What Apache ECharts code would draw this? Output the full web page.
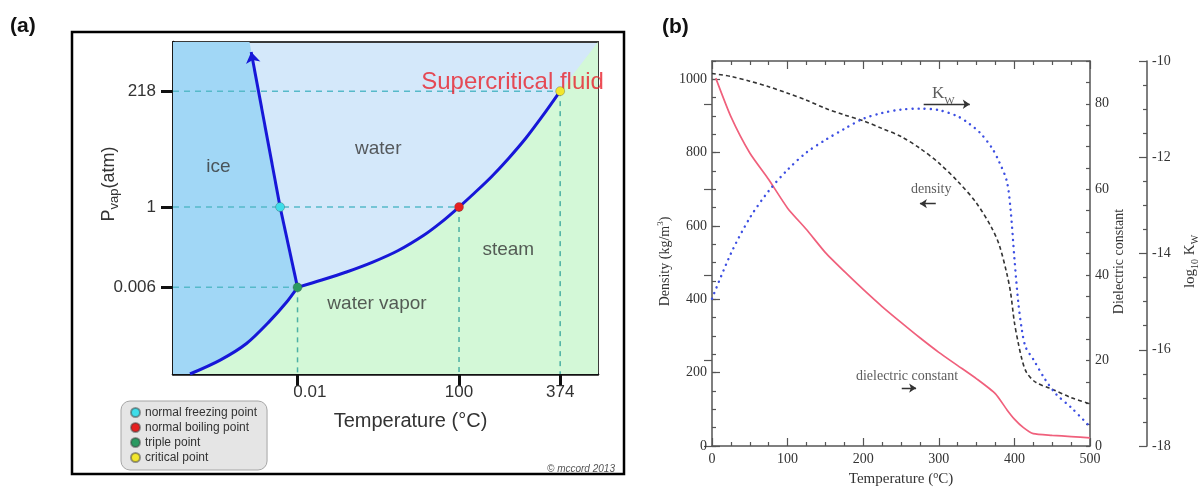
<!DOCTYPE html>
<html>
<head>
<meta charset="utf-8">
<script src="https://cdn.jsdelivr.net/npm/echarts@6/dist/echarts.min.js"></script>
<style>
  html, body { margin: 0; padding: 0; background: #fff; }
  #main { width: 1203px; height: 488px; }
</style>
</head>
<body>
<div id="main"></div>
<script>
// (a) phase diagram, schematic: both axes run 0..100 across the plot box
const phaseTickX = [29.3, 67.3, 91.1];
const phaseLabelX = [32.2, 67.3, 91.1]; // "0.01" sits a bit right of its tick
const phaseLabelXText = ["0.01", "100", "374"];
const phaseTickY = [26.1, 50.3, 85.2];
const phaseLabelYText = ["0.006", "1", "218"];

const sublimation = [[4.0, 0], [11.1, 4.2], [17.3, 9.2], [22.8, 16.0], [26.7, 21.6], [29.3, 26.1]];
const vaporization = [[29.3, 26.1], [35, 28.3], [41, 30.8], [47, 33.7], [53, 37.2], [59, 41.8], [63, 45.6],
  [67.3, 50.3], [71, 54.6], [75, 59.5], [79, 65.0], [83, 71.0], [87, 77.8], [91.1, 85.2]];
const melting = [[29.3, 26.1], [25.2, 50.3], [18.0, 100]];
const meltArrowTip = [18.4, 97];

const pointNames = ["normal freezing point", "normal boiling point", "triple point", "critical point"];
const pointCoords = [[25.2, 50.3], [67.3, 50.3], [29.3, 26.1], [91.1, 85.2]];
const guidePoints = [2, 1, 3]; // dashed guides to the axes

const phaseNames = ["ice", "water", "steam", "water vapor"];
const phaseNameAt = [[10.7, 62.4], [48.3, 67.8], [78.9, 37.3], [48.0, 21.1]];
const scfName = "Supercritical fluid";
const scfAt = [79.9, 87.7];

// (b) water properties vs temperature
const tempTicks = [0, 100, 200, 300, 400, 500];
const densityTicks = [0, 200, 400, 600, 800, 1000];
const dielectricTicks = [0, 20, 40, 60, 80];
const density = [[0, 1016], [25, 1008], [50, 995], [75, 980], [100, 962], [125, 943], [150, 921], [175, 903],
  [200, 887], [225, 866], [250, 844], [275, 812], [300, 772], [325, 722], [350, 662], [370, 595], [380, 548],
  [390, 470], [395, 418], [400, 337], [405, 282], [410, 236], [416, 201], [428, 174], [450, 155], [475, 132], [500, 115]];
const dielectric = [[5, 86], [25, 77], [50, 68.5], [75, 62.3], [100, 55.6], [125, 50.6], [150, 45.2], [175, 40.8],
  [200, 36.6], [225, 32.6], [250, 28.9], [275, 25.3], [300, 21.9], [325, 18.8], [350, 15.7], [375, 12.2],
  [390, 8.5], [400, 6.3], [412, 4.3], [425, 2.9], [450, 2.5], [475, 2.2], [500, 1.9]];
const logKw = [[0, -14.94], [25, -14.0], [50, -13.26], [75, -12.7], [100, -12.26], [125, -11.9], [150, -11.64],
  [175, -11.41], [200, -11.2], [225, -11.08], [250, -11.01], [275, -10.99], [300, -11.02], [325, -11.15],
  [340, -11.3], [355, -11.5], [370, -11.8], [380, -12.1], [390, -12.5], [395, -13.1], [400, -14.1],
  [405, -15.0], [410, -15.6], [415, -15.95], [425, -16.2], [440, -16.6], [455, -16.92], [475, -17.2], [500, -17.6]];
const notes = ["{k|K}{w|W}", "density", "dielectric constant"];
const noteAt = [[306, 962], [290, 699], [258, 190]];
const noteArrows = [[[280, 932], [341, 932]], [[296, 661], [275, 661]], [[251, 158], [270, 158]]];

const pointColors = ["#3fdde9", "#e62020", "#2b9a62", "#f2e62c"];
const regionColors = ["#a1d7f6", "#d3f8d7"];
const SANS = "Liberation Sans";
const SERIF = "Liberation Serif";
const AX = "#555";

const regions = [
  [[0, 0], ...sublimation, ...melting.slice(1), [0, 100]],
  [...sublimation, ...vaporization.slice(1), [100, 100], [100, 0]],
];

const chart = echarts.init(document.getElementById("main"));

const guideSeries = [];
guidePoints.forEach((i) => {
  const [px, py] = pointCoords[i];
  guideSeries.push({
    type: "line", xAxisIndex: 0, yAxisIndex: 0, symbol: "none", silent: true, z: 3,
    data: [[0, py], [px, py]],
    lineStyle: { color: "#56b9c9", width: 1.5, type: [6, 5] },
  });
  guideSeries.push({
    type: "line", xAxisIndex: 0, yAxisIndex: 0, symbol: "none", silent: true, z: 3,
    data: [[px, py], [px, 0]],
    lineStyle: { color: "#4cb0a4", width: 1.5, type: [5, 5] },
  });
});

const curve = (data) => ({
  type: "line", xAxisIndex: 0, yAxisIndex: 0, symbol: "none", smooth: 0.3, silent: true, z: 4,
  data: data,
  lineStyle: { color: "#1717d8", width: 3 },
});

// (b) helper: a value axis drawn twice, short ticks on every step, long ticks on the labelled values
const serifLabel = { fontFamily: SERIF, fontSize: 14, color: "#333" };
const plain = (v) => String(v);
const pairAxis = (base, majors, extra) => [
  Object.assign({}, base, {
    axisLine: { show: true, onZero: false, lineStyle: { color: AX, width: 1.5 } },
    axisTick: { show: true, inside: true, length: 4, lineStyle: { color: AX, width: 1.2 } },
    axisLabel: Object.assign({ show: true, customValues: majors, margin: 5, formatter: plain }, serifLabel),
    splitLine: { show: false },
  }, extra),
  Object.assign({}, base, {
    axisLine: { show: false },
    axisTick: { show: true, inside: true, length: 8, customValues: majors, lineStyle: { color: AX, width: 1.2 } },
    axisLabel: { show: false },
    splitLine: { show: false },
  }),
];

const option = {
  animation: false,
  title: [
    { text: "(a)", left: 5, top: 11, textStyle: { fontFamily: SANS, fontWeight: "bold", fontSize: 21, color: "#111" } },
    { text: "(b)", left: 657, top: 12, textStyle: { fontFamily: SANS, fontWeight: "bold", fontSize: 21, color: "#111" } },
  ],
  legend: {
    data: pointNames,
    orient: "vertical",
    left: 121,
    top: 401,
    padding: [5, 10, 6, 9],
    itemWidth: 9,
    itemHeight: 9,
    itemGap: 2,
    icon: "circle",
    backgroundColor: "#e5e5e5",
    borderColor: "#a5a5a5",
    borderWidth: 1,
    borderRadius: 9,
    textStyle: { fontFamily: SANS, fontSize: 12, color: "#333", lineHeight: 13 },
    selectedMode: false,
  },
  graphic: [
    { type: "rect", shape: { x: 72, y: 32, width: 552, height: 442 }, style: { fill: "none", stroke: "#000", lineWidth: 2.5 }, z: 100 },
    { type: "text", left: 547, top: 464, style: { text: "\u00a9 mccord 2013", font: "italic 10px " + SANS, fill: "#555" } },
  ],
  grid: [
    { left: 173, right: 605, top: 42, bottom: 114, show: true, backgroundColor: "#d4e8fa", borderColor: "#3a3a3a", borderWidth: 2, outerBoundsMode: "none" },
    { left: 712, right: 113, top: 61, bottom: 42, outerBoundsMode: "none" },
  ],
  xAxis: [
    {
      gridIndex: 0, type: "value", min: 0, max: 100,
      name: "Temperature (\u00b0C)", nameLocation: "middle", nameGap: 37, nameMoveOverlap: false,
      nameTextStyle: { fontFamily: SANS, fontSize: 20, color: "#333", padding: [0, 0, 0, 50] },
      axisLine: { onZero: false, lineStyle: { color: "#111", width: 2.5 } },
      axisTick: { customValues: phaseTickX, length: 12, lineStyle: { color: "#111", width: 3 } },
      axisLabel: {
        customValues: phaseLabelX, margin: 10, fontFamily: SANS, fontSize: 17, color: "#333",
        formatter: (v) => phaseLabelXText[phaseLabelX.indexOf(v)],
      },
      splitLine: { show: false },
    },
    {
      gridIndex: 1, type: "value", min: 0, max: 500, interval: 100, position: "bottom",
      name: "Temperature ({s|o}C)", nameLocation: "middle", nameGap: 24, nameMoveOverlap: false,
      nameTextStyle: Object.assign({ lineHeight: 18, rich: { s: { fontFamily: SERIF, fontSize: 10, lineHeight: 10, verticalAlign: "top", color: "#333" } } }, serifLabel, { fontSize: 15 }),
      axisLine: { onZero: false, lineStyle: { color: AX, width: 1.5 } },
      axisTick: { inside: true, length: 8, lineStyle: { color: AX, width: 1.2 } },
      minorTick: { show: true, splitNumber: 4, length: 4, lineStyle: { color: AX, width: 1.2 } },
      axisLabel: Object.assign({ customValues: tempTicks, margin: 6, formatter: plain }, serifLabel),
      splitLine: { show: false },
    },
    {
      gridIndex: 1, type: "value", min: 0, max: 500, interval: 100, position: "top",
      axisLine: { onZero: false, lineStyle: { color: AX, width: 1.5 } },
      axisTick: { inside: true, length: 8, lineStyle: { color: AX, width: 1.2 } },
      minorTick: { show: true, splitNumber: 4, length: 4, lineStyle: { color: AX, width: 1.2 } },
      axisLabel: { show: false },
      splitLine: { show: false },
    },
  ],
  yAxis: [
    {
      gridIndex: 0, type: "value", min: 0, max: 100,
      name: "P{s|vap}(atm)", nameLocation: "middle", nameGap: 52, nameRotate: 90, nameMoveOverlap: false,
      nameTextStyle: {
        fontFamily: SANS, fontSize: 18, color: "#333", lineHeight: 24, padding: [0, 0, 0, 48],
        rich: { s: { fontFamily: SANS, fontSize: 13, lineHeight: 13, verticalAlign: "bottom", color: "#333" } },
      },
      axisLine: { onZero: false, lineStyle: { color: "#111", width: 2.5 } },
      axisTick: { customValues: phaseTickY, length: 12, lineStyle: { color: "#111", width: 3 } },
      axisLabel: {
        customValues: phaseTickY, margin: 17, fontFamily: SANS, fontSize: 17, color: "#333",
        formatter: (v) => phaseLabelYText[phaseTickY.indexOf(v)],
      },
      splitLine: { show: false },
    },
    ...pairAxis(
      { gridIndex: 1, type: "value", min: 0, max: 1050, interval: 50, position: "left" },
      densityTicks,
      {
        name: "Density (kg/m{s|3})", nameLocation: "middle", nameGap: 38, nameRotate: 90, nameMoveOverlap: false,
        nameTextStyle: Object.assign({ lineHeight: 18, padding: [0, 16, 0, 0], rich: { s: { fontFamily: SERIF, fontSize: 9, lineHeight: 9, verticalAlign: "top", color: "#333" } } }, serifLabel),
      }
    ),
    ...pairAxis(
      { gridIndex: 1, type: "value", min: 0, max: 90, interval: 5, position: "right" },
      dielectricTicks,
      {
        name: "Dielectric constant", nameLocation: "middle", nameGap: 22, nameRotate: 90, nameMoveOverlap: false,
        nameTextStyle: Object.assign({ padding: [0, 16, 0, 0] }, serifLabel),
      }
    ),
    {
      gridIndex: 1, type: "value", min: -18, max: -10, interval: 2, position: "right", offset: 57,
      name: "log{s|10} K{s|W}", nameLocation: "middle", nameGap: 33, nameRotate: 90, nameMoveOverlap: false,
      nameTextStyle: Object.assign({ lineHeight: 20, padding: [0, 16, 0, 0], rich: { s: { fontFamily: SERIF, fontSize: 10, lineHeight: 10, verticalAlign: "bottom", color: "#333" } } }, serifLabel, { fontSize: 15 }),
      axisLine: { show: true, onZero: false, lineStyle: { color: AX, width: 1.5 } },
      axisTick: { show: true, inside: true, length: 8, lineStyle: { color: AX, width: 1.2 } },
      minorTick: { show: true, splitNumber: 4, length: 4, lineStyle: { color: AX, width: 1.2 } },
      axisLabel: Object.assign({ show: true, margin: 5 }, serifLabel),
      splitLine: { show: false },
    },
  ],
  series: [
    {
      type: "custom", xAxisIndex: 0, yAxisIndex: 0, silent: true, z: 1, clip: true,
      data: regions.map((r, i) => ({ value: [i, 0] })),
      renderItem(params, api) {
        const pts = regions[params.dataIndex].map((p) => api.coord(p));
        return { type: "polygon", shape: { points: pts, smooth: 0 }, style: { fill: regionColors[params.dataIndex] } };
      },
    },
    ...guideSeries,
    curve(sublimation),
    curve(vaporization),
    curve(melting.slice(0, 2)),
    {
      type: "lines", coordinateSystem: "cartesian2d", xAxisIndex: 0, yAxisIndex: 0, silent: true, z: 4,
      symbol: ["none", "arrow"], symbolSize: 11,
      data: [{ coords: [pointCoords[0], meltArrowTip] }],
      lineStyle: { color: "#1717d8", width: 3, opacity: 1 },
    },
    ...pointNames.map((n, i) => ({
      name: n, type: "scatter", xAxisIndex: 0, yAxisIndex: 0, z: 6, silent: true,
      symbol: "circle", symbolSize: 9,
      data: [pointCoords[i]],
      itemStyle: { color: pointColors[i], borderColor: "rgba(60,60,60,0.5)", borderWidth: 0.6, opacity: 1 },
    })),
    {
      type: "scatter", xAxisIndex: 0, yAxisIndex: 0, z: 5, silent: true, symbolSize: 0,
      data: phaseNames.map((n, i) => ({ name: n, value: phaseNameAt[i] })),
      itemStyle: { color: "transparent" },
      label: { show: true, position: "inside", formatter: (p) => p.name, fontFamily: SANS, fontSize: 19, color: "#333" },
    },
    {
      type: "scatter", xAxisIndex: 0, yAxisIndex: 0, z: 5, silent: true, symbolSize: 0,
      data: [{ name: scfName, value: scfAt }],
      itemStyle: { color: "transparent" },
      label: { show: true, position: "inside", formatter: (p) => p.name, fontFamily: SANS, fontSize: 24, color: "#e8202a" },
    },

    // (b)
    {
      name: "density", type: "line", xAxisIndex: 1, yAxisIndex: 1, symbol: "none", smooth: 0.3, silent: true, z: 3,
      data: density,
      lineStyle: { color: "#333", width: 1.6, type: [4, 3] },
    },
    {
      name: "dielectric constant", type: "line", xAxisIndex: 1, yAxisIndex: 3, symbol: "none", smooth: 0.2, silent: true, z: 3,
      data: dielectric,
      lineStyle: { color: "#f0607c", width: 1.7 },
    },
    {
      name: "log Kw", type: "line", xAxisIndex: 1, yAxisIndex: 5, symbol: "none", smooth: 0.3, silent: true, z: 3,
      data: logKw,
      lineStyle: { color: "#3d4fe2", width: 2.4, type: [0.1, 6], cap: "round" },
    },
    {
      type: "scatter", xAxisIndex: 1, yAxisIndex: 1, z: 5, silent: true, symbolSize: 0,
      data: notes.map((n, i) => ({ name: n, value: noteAt[i] })),
      itemStyle: { color: "transparent" },
      label: {
        show: true, position: "inside", formatter: (p) => p.name,
        fontFamily: SERIF, fontSize: 14, color: "#333",
        rich: {
          k: { fontFamily: SERIF, fontSize: 17, color: "#333", lineHeight: 26 },
          w: { fontFamily: SERIF, fontSize: 11, color: "#333", verticalAlign: "bottom", lineHeight: 11 },
        },
      },
    },
    {
      type: "lines", coordinateSystem: "cartesian2d", xAxisIndex: 1, yAxisIndex: 1, silent: true, z: 5,
      symbol: ["none", "arrow"], symbolSize: 7,
      data: noteArrows.map((c) => ({ coords: c })),
      lineStyle: { color: "#333", width: 1.3, opacity: 1 },
    },
  ],
};

chart.setOption(option);
</script>
</body>
</html>
